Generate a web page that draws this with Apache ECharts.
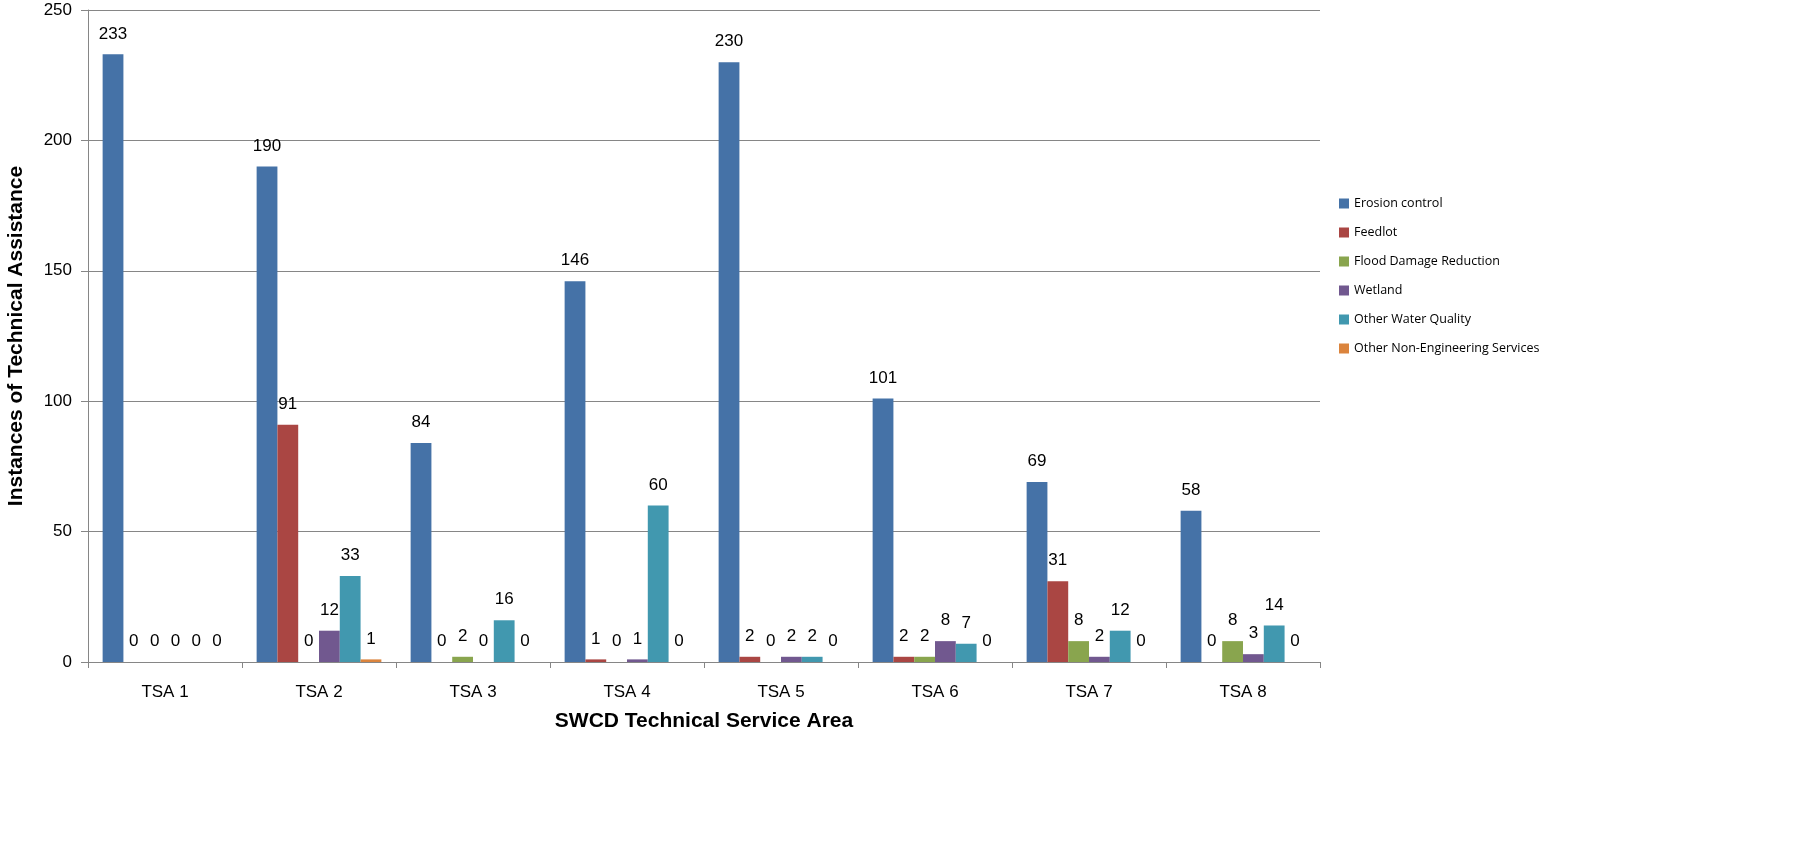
<!DOCTYPE html>
<html><head><meta charset="utf-8">
<script src="https://cdn.jsdelivr.net/npm/echarts@6/dist/echarts.min.js"></script>
<style>html,body{margin:0;padding:0;background:#fff}#c{width:1817px;height:850px}</style>
</head><body><div id="c"></div>
<script>
const categories = ['TSA 1','TSA 2','TSA 3','TSA 4','TSA 5','TSA 6','TSA 7','TSA 8'];
const seriesNames = ['Erosion control','Feedlot','Flood Damage Reduction','Wetland','Other Water Quality','Other Non-Engineering Services'];
const erosion = [233,190,84,146,230,101,69,58];
const feedlot = [0,91,0,1,2,2,31,0];
const flood = [0,0,2,0,0,2,8,8];
const wetland = [0,12,0,1,2,8,2,3];
const otherWQ = [0,33,16,60,2,7,12,14];
const otherNonEng = [0,1,0,0,0,0,0,0];
const yTicks = [0,50,100,150,200,250];
const colors = ['#4572A7','#AA4643','#89A54E','#71588F','#4198AF','#DB843D'];
const font = 'Liberation Sans Narrow, Arial Narrow, Liberation Sans, sans-serif';
const allData = [erosion, feedlot, flood, wetland, otherWQ, otherNonEng];
const chart = echarts.init(document.getElementById('c'));
chart.setOption({
  animation:false,
  color: colors,
  grid:{left:88,right:497,top:10,bottom:188,containLabel:false,outerBoundsMode:'none'},
  legend:{orient:'vertical',left:1334,top:192,itemWidth:10,itemHeight:10,itemGap:16,icon:'rect',
    textStyle:{fontFamily:'Open Sans, sans-serif',fontSize:12.5,color:'#000'},data:seriesNames},
  xAxis:{type:'category',data:categories,
    axisLine:{lineStyle:{color:'#868686',width:1}},
    axisTick:{show:true,length:6,lineStyle:{color:'#868686'}},
    axisLabel:{color:'#000',fontSize:17,fontFamily:font,margin:22},
    name:'SWCD Technical Service Area',nameLocation:'middle',nameGap:49,
    nameTextStyle:{fontSize:21,fontWeight:'bold',color:'#000',fontFamily:font}},
  yAxis:{type:'value',min:0,max:250,interval:50,
    axisLine:{show:true,lineStyle:{color:'#868686'}},
    axisTick:{show:true,length:7,lineStyle:{color:'#868686'}},
    splitLine:{lineStyle:{color:'#868686',width:1}},
    axisLabel:{color:'#000',fontSize:17,fontFamily:font,margin:16,
      formatter:v=>yTicks.includes(v)?String(v):''},
    name:'Instances of Technical Assistance',nameLocation:'middle',nameGap:61,
    nameTextStyle:{fontSize:21,fontWeight:'bold',color:'#000',fontFamily:font}},
  series: seriesNames.map((n,i)=>({
    name:n,type:'bar',data:allData[i],barGap:'0%',barCategoryGap:'19%',
    itemStyle:{color:colors[i]},
    label:{show:true,position:'top',distance:12,color:'#000',fontSize:17,fontFamily:font}
  }))
});
</script></body></html>
